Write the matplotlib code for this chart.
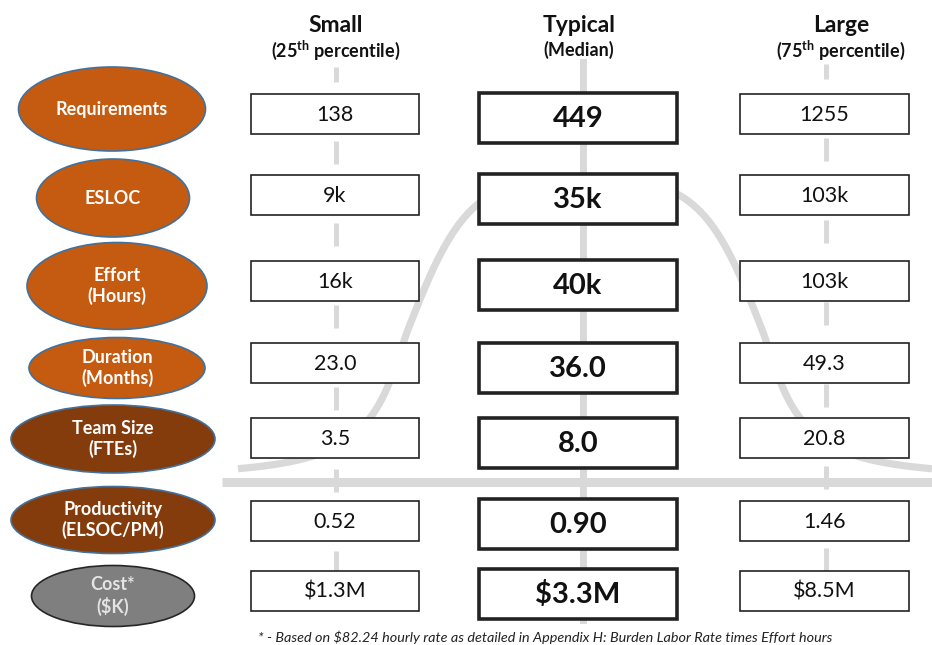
import numpy as np
import matplotlib
matplotlib.use("Agg")
import matplotlib.pyplot as plt
from matplotlib.patches import Ellipse, Rectangle

plt.rcParams['font.family'] = ['Lato', 'DejaVu Sans']
plt.rcParams['mathtext.fontset'] = 'custom'
plt.rcParams['mathtext.rm'] = 'Lato:bold'
plt.rcParams['mathtext.bf'] = 'Lato:bold'

# ---- data ----
metrics = ['Requirements', 'ESLOC', 'Effort\n(Hours)', 'Duration\n(Months)',
           'Team Size\n(FTEs)', 'Productivity\n(ELSOC/PM)', 'Cost*\n($K)']
small_vals = ['138', '9k', '16k', '23.0', '3.5', '0.52', '$1.3M']
typical_vals = ['449', '35k', '40k', '36.0', '8.0', '0.90', '$3.3M']
large_vals = ['1255', '103k', '103k', '49.3', '20.8', '1.46', '$8.5M']
col_titles = ['Small', 'Typical', 'Large']
col_subtitles = ['(25$^{\\bf th}$ percentile)', '(Median)', '(75$^{\\bf th}$ percentile)']
footnote = '* - Based on $82.24 hourly rate as detailed in Appendix H: Burden Labor Rate times Effort hours'

# ---- layout (pixels) ----
W, H = 932, 645
row_y_side = [114, 195, 281, 363, 438, 521, 591]
row_y_mid = [118, 198.5, 284.5, 368, 443, 524, 594]
ell_cx = [112, 113, 117, 117, 113, 113, 113]
ell_cy = [109, 198, 286, 368, 439, 520, 596]
ell_w = [187, 153, 180, 176, 204, 204, 163]
ell_h = [84, 78, 87, 61, 68, 67, 61]
ell_fc = ['#c55a11', '#c55a11', '#c55a11', '#c55a11', '#843c0c', '#843c0c', '#7f7f7f']
ell_ec = ['#41719c'] * 6 + ['#262626']
ell_tc = ['white'] * 6 + ['#e4e4e4']

col_x = [335, 578, 824.5]
box_w = [168, 198, 169]
title_x = [336, 579, 841]
line_x = [336, 583, 826]
gray = '#d9d9d9'

fig = plt.figure(figsize=(W / 100, H / 100), dpi=100)
ax = fig.add_axes([0, 0, 1, 1])
ax.set_xlim(0, W)
ax.set_ylim(H, 0)
ax.axis('off')

# bell curve background (decorative shape)
base_y = 482
cx, peak, c0 = 585, 305, 177
xs = np.linspace(238, 932, 900)
d = np.abs(xs - cx)
outer = np.maximum(d - c0, 0)
w = 30.0 - 9.0 * (1 - np.exp(-outer / 8.0)) + 0.2 * outer
ys = base_y - peak / (1 + np.exp((d - c0) / w))
ax.plot(xs, ys, color=gray, lw=5.2, zorder=1, solid_capstyle='butt')
ax.plot([222, 932], [base_y, base_y], color=gray, lw=6.5, zorder=1, solid_capstyle='butt')

# column guide lines
dash_lw = 3.6
dash_style = (1.6, (4.6, 11.8))
ax.plot([line_x[0]] * 2, [67, 615], color=gray, lw=dash_lw, zorder=1,
        linestyle=dash_style, dash_capstyle='butt')
ax.plot([line_x[1]] * 2, [62, 620], color=gray, lw=5, zorder=1)
ax.plot([line_x[2]] * 2, [64, 612], color=gray, lw=dash_lw, zorder=1,
        linestyle=dash_style, dash_capstyle='butt')

# headers
for i in range(3):
    ax.text(title_x[i], 25, col_titles[i], ha='center', va='center',
            fontsize=16.5, fontweight='bold', color='#111111', zorder=4)
    ax.text(title_x[i], 50, col_subtitles[i], ha='center', va='center',
            fontsize=13, fontweight='bold', color='#111111', zorder=4)

# ellipses
for i, m in enumerate(metrics):
    e = Ellipse((ell_cx[i], ell_cy[i]), ell_w[i], ell_h[i], facecolor=ell_fc[i],
                edgecolor=ell_ec[i], lw=1.2, zorder=3)
    ax.add_patch(e)
    ax.text(ell_cx[i], ell_cy[i], m, ha='center', va='center', fontsize=13,
            fontweight='bold', color=ell_tc[i], zorder=4, linespacing=1.25)

# value boxes
cols = [small_vals, typical_vals, large_vals]
for c in range(3):
    for r, v in enumerate(cols[c]):
        if c == 1:
            yc, hh, lw, fs, fw = row_y_mid[r], 50, 2.6, 21, 'bold'
        else:
            yc, hh, lw, fs, fw = row_y_side[r], 40, 1.2, 15.5, 'normal'
        rect = Rectangle((col_x[c] - box_w[c] / 2, yc - hh / 2), box_w[c], hh,
                         facecolor='white', edgecolor='#222222', lw=lw, zorder=3)
        ax.add_patch(rect)
        ax.text(col_x[c], yc + 1, v, ha='center', va='center', fontsize=fs,
                fontweight=fw, color='#111111', zorder=4)

ax.text(545, 637, footnote, ha='center', va='center', fontsize=10.4,
        style='italic', color='#222222', zorder=4)

fig.savefig('out.png', dpi=100)
